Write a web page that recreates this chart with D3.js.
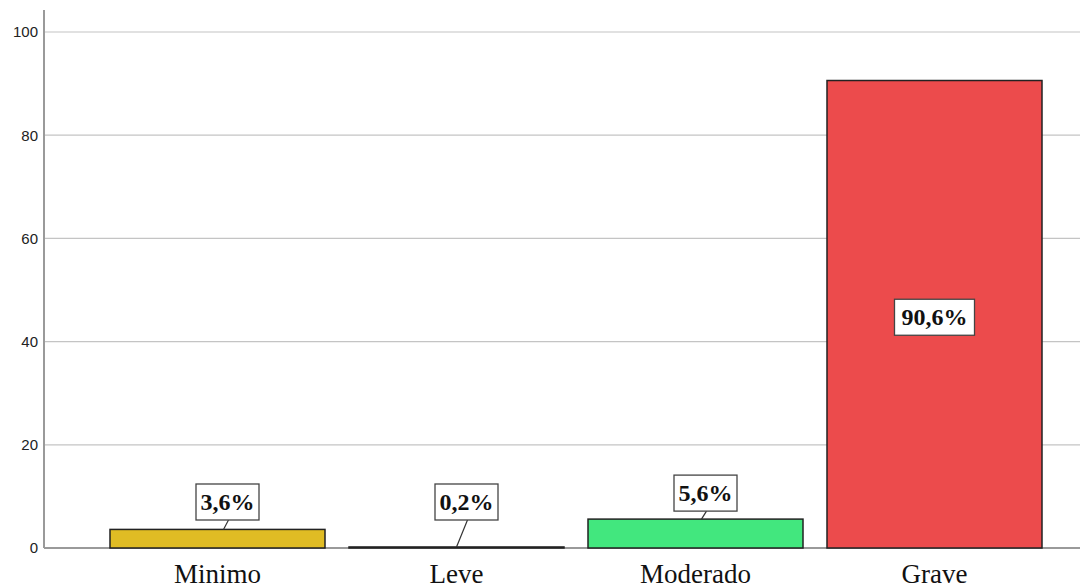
<!DOCTYPE html>
<html>
<head>
<meta charset="utf-8">
<script src="https://cdn.jsdelivr.net/npm/d3@7"></script>
<style>
  body { margin: 0; background: #fff; }
</style>
</head>
<body>
<script>
var categories = ["Minimo", "Leve", "Moderado", "Grave"];
var values = [3.6, 0.2, 5.6, 90.6];
var labels = ["3,6%", "0,2%", "5,6%", "90,6%"];
var colors = ["#e0bc24", "#111111", "#42e77e", "#ec4b4c"];
var yTicks = [0, 20, 40, 60, 80, 100];

var w = 1080;
var h = 587;

var svg = d3.select("body")
            .append("svg")
            .attr("width", w)
            .attr("height", h);

var x = d3.scaleBand()
          .domain(categories)
          .range([98, 1054])
          .paddingInner(24 / 239)
          .paddingOuter(12 / 239);

var y = d3.scaleLinear()
          .domain([0, 100])
          .range([548, 32]);

// gridlines
svg.selectAll("line.grid")
   .data(yTicks)
   .enter()
   .append("line")
   .attr("class", "grid")
   .attr("x1", 44)
   .attr("x2", w)
   .attr("y1", function(d) { return y(d); })
   .attr("y2", function(d) { return y(d); })
   .attr("stroke", "#c4c4c4")
   .attr("stroke-width", 1.2);

// y axis
var yAxis = d3.axisLeft(y).tickValues(yTicks).tickSize(0).tickPadding(6);
var gy = svg.append("g")
            .attr("transform", "translate(44,0)")
            .call(yAxis);
gy.select(".domain").remove();
gy.selectAll("text")
  .attr("font-family", "Arial, 'Liberation Sans', sans-serif")
  .attr("font-size", 15)
  .attr("fill", "#222");

svg.append("line")
   .attr("x1", 44).attr("x2", 44)
   .attr("y1", 10).attr("y2", 548)
   .attr("stroke", "#9a9a9a")
   .attr("stroke-width", 2);

svg.append("line")
   .attr("x1", 44).attr("x2", w)
   .attr("y1", 548).attr("y2", 548)
   .attr("stroke", "#9a9a9a")
   .attr("stroke-width", 2);

// bars
svg.selectAll("rect.bar")
   .data(values)
   .enter()
   .append("rect")
   .attr("class", "bar")
   .attr("x", function(d, i) { return x(categories[i]); })
   .attr("y", function(d) { return y(d); })
   .attr("width", x.bandwidth())
   .attr("height", function(d) { return y(0) - y(d); })
   .attr("fill", function(d, i) { return colors[i]; })
   .attr("stroke", "#222")
   .attr("stroke-width", 1.5);

// category labels
svg.selectAll("text.cat")
   .data(categories)
   .enter()
   .append("text")
   .attr("class", "cat")
   .attr("x", function(d) { return x(d) + x.bandwidth() / 2; })
   .attr("y", 583)
   .attr("text-anchor", "middle")
   .attr("font-family", "'Liberation Serif', 'Times New Roman', serif")
   .attr("font-size", 27)
   .attr("fill", "#111")
   .text(function(d) { return d; });

// value labels
var boxH = 36;
values.forEach(function(v, i) {
  var cx = x(categories[i]) + x.bandwidth() / 2;
  var inside = v > 50;
  var bx, by;
  if (inside) {
    bx = cx;
    by = (y(v) + y(0)) / 2 + 3 - boxH / 2;
  } else {
    bx = cx + 10;
    by = Math.min(y(v) - 8, 520) - boxH;
  }
  var lw = labels[i].length > 4 ? 80 : 63;
  if (!inside) {
    svg.append("line")
       .attr("x1", bx + 1).attr("y1", by + boxH)
       .attr("x2", (y(0) - y(v) < 10 ? cx : cx + 6)).attr("y2", y(v))
       .attr("stroke", "#333")
       .attr("stroke-width", 1.2);
  }
  svg.append("rect")
     .attr("x", bx - lw / 2)
     .attr("y", by)
     .attr("width", lw)
     .attr("height", boxH)
     .attr("fill", "#fff")
     .attr("stroke", "#444")
     .attr("stroke-width", 1.3);
  svg.append("text")
     .attr("x", bx)
     .attr("y", by + boxH / 2 + 8)
     .attr("text-anchor", "middle")
     .attr("font-family", "'Liberation Serif', 'Times New Roman', serif")
     .attr("font-weight", "bold")
     .attr("font-size", 24)
     .attr("fill", "#111")
     .text(labels[i]);
});
</script>
</body>
</html>
